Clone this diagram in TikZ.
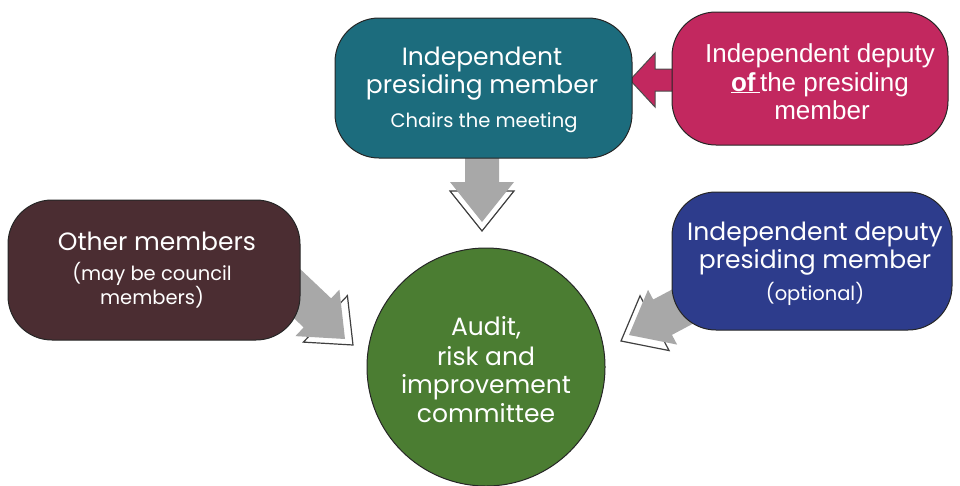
\documentclass[tikz,border=0pt]{standalone}
\usepackage{fontspec}
\setmainfont{Poppins}
\newfontfamily\arialf{Liberation Sans}
\usetikzlibrary{calc}
\definecolor{tealc}{HTML}{1C6C7D}
\definecolor{pinkc}{HTML}{C2285F}
\definecolor{brownc}{HTML}{4B2D32}
\definecolor{bluec}{HTML}{2D3C8C}
\definecolor{greenc}{HTML}{4B7D32}
\definecolor{arrowc}{HTML}{A8A8A8}
\newcommand\blockarrow[7]{%
  \coordinate (ba-h) at ($(#2)!#5!(#1)$);
  \coordinate (ba-l) at ($(ba-h)!#4!90:(#2)$);
  \coordinate (ba-r) at ($(ba-h)!#4!-90:(#2)$);
  \filldraw[fill=white, draw=black!75, line width=1.2pt]
    ($(ba-l)+#7$) -- ($(#2)+#7$) -- ($(ba-r)+#7$) -- cycle;
  \fill[#6] ($(#1)!#3!90:(#2)$) -- ($(ba-h)!#3!90:(#2)$) -- (ba-l)
    -- (#2) -- (ba-r) -- ($(ba-h)!#3!-90:(#2)$) -- ($(#1)!#3!-90:(#2)$) -- cycle;
}
\tikzset{
  box/.style={draw=black!85, line width=1pt, rounded corners=44pt, inner sep=0pt},
  big/.style={text=white, anchor=base, font=\fontsize{25}{28}\selectfont},
  small/.style={text=white, anchor=base, font=\fontsize{19.5}{23}\selectfont},
  ariallbl/.style={text=white, anchor=base, font=\arialf\fontsize{26}{29}\selectfont},
}
\begin{document}
\begin{tikzpicture}[x=1pt,y=-1pt]
\useasboundingbox (0,0) rectangle (960,485);
% anchor coordinates for the block arrows
\coordinate (downtail) at (482,140);
\coordinate (downtip) at (482,222);
\coordinate (lefttail) at (270,268);
\coordinate (lefttip) at (345,339);
\coordinate (righttail) at (710,292);
\coordinate (righttip) at (629,335);
\coordinate (pinktail) at (700,80);
\coordinate (pinktip) at (630,80);
% grey block arrows
\blockarrow{downtail}{downtip}{17pt}{32pt}{40pt}{arrowc}{(0,9)}
\blockarrow{lefttail}{lefttip}{20pt}{32pt}{38pt}{arrowc}{(8,6)}
\blockarrow{righttail}{righttip}{20pt}{31pt}{38pt}{arrowc}{(-8,6)}
% pink arrow
\coordinate (pa-h) at ($(pinktip)!25pt!(pinktail)$);
\filldraw[fill=pinkc, draw=black!70, line width=1pt]
  ($(pinktail)!11pt!90:(pinktip)$) -- ($(pa-h)!11pt!90:(pinktip)$) -- ($(pa-h)!27pt!90:(pinktip)$)
  -- (pinktip) -- ($(pa-h)!27pt!-90:(pinktip)$) -- ($(pa-h)!11pt!-90:(pinktip)$) -- ($(pinktail)!11pt!-90:(pinktip)$) -- cycle;
% boxes
\node[box, fill=tealc, minimum width=297pt, minimum height=140pt] (teal) at (483.5,88) {};
\node[box, fill=pinkc, minimum width=276pt, minimum height=133pt] (pink) at (810,78.5) {};
\node[box, fill=brownc, minimum width=292pt, minimum height=140pt] (brown) at (154,270) {};
\node[box, fill=bluec, minimum width=280pt, minimum height=138pt] (blue) at (812,261) {};
\node[circle, draw=black!85, line width=1pt, fill=greenc, minimum size=238pt, inner sep=0pt] (arc) at (486,367) {};
% texts
\node[big] (t1) at (482,65) {Independent};
\node[big] (t2) at (482,93) {presiding member};
\node[small] (t3) at (484,127) {Chairs the meeting};
\node[ariallbl] (p1) at (820,62) {Independent deputy};
\node[ariallbl] (p2) at (820,91) {\underline{\textbf{of}\,}the presiding};
\node[ariallbl] (p3) at (822,119) {member};
\node[big] (o1) at (157,250) {Other members};
\node[small] (o2) at (152,280) {(may be council};
\node[small] (o3) at (152,304) {members)};
\node[big] (b1) at (815,240) {Independent deputy};
\node[big] (b2) at (815,268) {presiding member};
\node[small] (b3) at (815,300) {(optional)};
\node[big] (c1) at (486,335) {Audit,};
\node[big] (c2) at (486,365) {risk and};
\node[big] (c3) at (486,393) {improvement};
\node[big] (c4) at (486,422) {committee};
\end{tikzpicture}
\end{document}
